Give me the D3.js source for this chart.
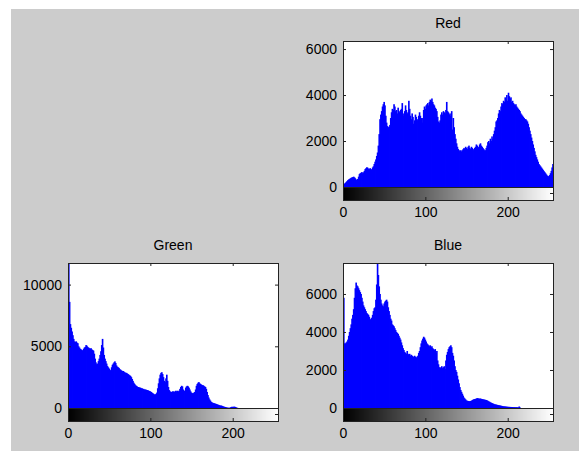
<!DOCTYPE html>
<html>
<head>
<meta charset="utf-8">
<script src="https://cdn.jsdelivr.net/npm/d3@7"></script>
<style>
  html, body { margin: 0; padding: 0; background: #fff; }
  svg { display: block; font-family: "Liberation Sans", Arial, sans-serif; }
  .tick text { fill: #000; font-size: 14px; }
  .tick line { stroke: #222; }
</style>
</head>
<body>
<svg width="579" height="451"></svg>
<script>
// pixel counts per intensity level (0..255)
const redCounts = [
  100,150,180,220,260,300,330,350,380,400,420,430,450,420,380,330,
  300,350,450,560,600,620,650,600,640,700,780,820,860,840,800,780,
  820,780,760,850,900,1000,1100,1200,1350,1500,1800,2300,2950,3150,3300,3500,
  3600,3700,3550,3100,2800,2650,2600,2620,2700,3000,3250,3400,3350,3600,3500,3300,
  3350,3200,3450,3300,3250,3350,3400,3650,3200,3100,3300,3550,3350,3200,3250,3750,
  3400,3100,2950,3200,3050,2750,2900,3150,3050,2950,2900,3100,3250,3100,3000,2800,
  3000,3350,3500,3400,3550,3600,3650,3550,3700,3800,3750,3850,3700,3600,3550,3450,
  3400,3300,3050,2850,2800,2900,3150,3250,3150,3300,3250,3200,3350,3700,3300,3250,
  3150,3200,3100,3300,2500,3000,2600,2300,2100,1900,1750,1650,1600,1550,1600,1550,
  1600,1650,1700,1650,1750,1700,1650,1750,1800,1700,1650,1750,1700,1650,1600,1700,
  1750,1850,1800,1700,1750,1850,1900,1800,1750,1700,1650,1600,1600,1700,1800,1950,
  2000,1900,2100,2000,2200,2100,2300,2450,2600,2850,2900,3000,3200,3350,3300,3500,
  3650,3600,3750,3700,3900,3800,4000,3750,4100,3950,3850,3900,3700,3750,3650,3600,
  3550,3600,3500,3450,3400,3350,3300,3200,3150,3100,3050,3000,2950,2950,2900,2850,
  2750,2600,2450,2300,2150,2000,1850,1700,1550,1400,1300,1200,1100,1000,950,900,
  850,800,750,700,650,600,550,500,480,450,520,600,700,850,1000,1100
];

const greenCounts = [
  11700,8600,6800,6500,6200,5900,5600,5400,5350,5400,5300,5250,5000,4900,4800,4750,
  4700,4650,4800,4900,4950,5100,5050,4950,4900,4850,4800,4850,4750,4700,4650,4400,
  4000,3700,3550,3600,3800,4000,4300,4600,5100,5600,4900,4300,4000,3800,3600,3400,
  3300,3200,3100,3050,3300,3500,3600,3700,3780,3650,3450,3350,3300,3250,3150,3100,
  3050,3000,3000,2950,2900,2850,2850,2800,2750,2700,2650,2600,2500,2350,2200,2050,
  1950,1850,1800,1750,1700,1700,1650,1650,1600,1600,1550,1550,1500,1500,1480,1450,
  1450,1400,1380,1350,1300,1250,1200,1150,1100,1100,1150,1250,1600,2000,2400,2700,
  2850,2900,2750,2500,2200,2100,2400,2700,2200,1700,1450,1350,1300,1300,1350,1350,
  1300,1350,1400,1350,1400,1350,1400,1550,1700,1800,1750,1500,1400,1400,1650,1750,
  1800,1750,1650,1500,1350,1250,1200,1200,1250,1300,1500,1800,1950,2050,2100,2000,
  1950,1900,1850,1850,1800,1750,1700,1550,1300,1050,850,700,600,500,450,420,
  400,380,350,330,300,280,250,230,200,200,180,150,120,100,80,60,
  40,30,20,20,30,80,100,90,100,110,90,60,30,10,0,0,
  0,0,0,0,0,0,0,0,0,0,0,0,0,0,0,0,
  0,0,0,0,0,0,0,0,0,0,0,0,0,0,0,0,
  0,0,0,0,0,0,0,0,0,0,0,0,0,0,0,0
];

const blueCounts = [
  5800,3400,3400,3450,3500,3600,3800,4000,4200,4400,4700,4900,5200,5800,6300,6600,
  6450,6400,6300,6200,6100,6000,5800,5600,5400,5300,5200,5100,5000,4950,4900,4800,
  4650,4700,4750,4900,5100,5250,5300,5700,6500,7650,7000,6400,6000,5700,5500,5400,
  5350,5500,5600,5650,5700,5600,5300,5100,4900,4700,4600,4400,4350,4300,4200,4100,
  4000,3950,3900,3800,3700,3600,3450,3300,3150,3050,2950,2900,2850,3000,2850,2800,
  2850,2750,2800,2750,2700,2700,2750,2700,2650,2700,2750,2900,3000,3200,3400,3550,
  3650,3750,3700,3600,3500,3400,3350,3300,3250,3300,3200,3250,3150,3100,3050,3100,
  2900,3000,2500,2300,2150,2100,2150,2200,2100,2150,2200,2050,2500,2800,2950,3100,
  3200,3250,3300,3200,2900,2750,2500,2200,2000,1900,1700,1500,1300,1100,950,850,
  750,650,550,500,450,400,380,370,350,360,370,380,420,440,460,470,
  480,500,520,510,500,490,500,480,470,460,450,440,430,420,400,380,
  350,330,300,280,260,240,220,200,190,180,170,160,150,140,130,120,
  110,100,90,85,80,75,70,65,60,60,55,55,50,50,45,45,
  40,40,40,35,35,80,30,0,0,0,0,0,0,0,0,0,
  0,0,0,0,0,0,0,0,0,0,0,0,0,0,0,0,
  0,0,0,0,0,0,0,0,0,0,0,0,0,0,0,0
];

const levels = d3.range(256);
const xTicks = [0, 100, 200];
const redTicks = [0, 2000, 4000, 6000];
const greenTicks = [0, 5000, 10000];
const blueTicks = [0, 2000, 4000, 6000];

const panels = [
  { title: 'Red', counts: redCounts, yTicks: redTicks, yMax: 6350, left: 343, top: 41, width: 210, height: 146 },
  { title: 'Green', counts: greenCounts, yTicks: greenTicks, yMax: 11750, left: 68, top: 263, width: 210, height: 145 },
  { title: 'Blue', counts: blueCounts, yTicks: blueTicks, yMax: 7630, left: 343, top: 263, width: 210, height: 145 },
];

const barHeight = 13;
const tickLen = 3;

const svg = d3.select('svg');

// figure background (matlab grey)
svg.append('rect')
  .attr('x', 11).attr('y', 9)
  .attr('width', 579 - 11).attr('height', 451 - 9)
  .attr('fill', '#cccccc');

const defs = svg.append('defs');

panels.forEach((p, idx) => {
  const x = d3.scaleLinear().domain([0, 255]).range([p.left, p.left + p.width]);
  const y = d3.scaleLinear().domain([0, p.yMax]).range([p.top + p.height, p.top]);
  const bottom = p.top + p.height;

  defs.append('clipPath').attr('id', `clip${idx}`)
    .append('rect')
    .attr('x', p.left).attr('y', p.top)
    .attr('width', p.width).attr('height', p.height);

  const g = svg.append('g');

  g.append('rect')
    .attr('x', p.left).attr('y', p.top)
    .attr('width', p.width).attr('height', p.height)
    .attr('fill', '#fff');

  // one bar per intensity level, slightly widened so neighbours overlap
  g.append('g')
    .attr('clip-path', `url(#clip${idx})`)
    .selectAll('rect')
    .data(levels.filter((i) => p.counts[i] > 0))
    .enter()
    .append('rect')
    .attr('x', (i) => x(i))
    .attr('y', (i) => y(p.counts[i]))
    .attr('width', (i) => x(i + 1) - x(i) + 0.8)
    .attr('height', (i) => bottom - y(p.counts[i]))
    .attr('fill', '#0000ff');

  // y axis on the left (ticks inside)
  g.append('g')
    .attr('transform', `translate(${p.left},0)`)
    .call(d3.axisLeft(y).tickValues(p.yTicks).tickFormat(d3.format('d'))
      .tickSizeInner(-tickLen).tickSizeOuter(0).tickPadding(6))
    .call((a) => a.select('.domain').remove())
    .call((a) => a.selectAll('text').attr('font-size', 14));

  // mirrored ticks on the right
  g.append('g')
    .attr('transform', `translate(${p.left + p.width},0)`)
    .call(d3.axisRight(y).tickValues(p.yTicks).tickFormat('')
      .tickSizeInner(-tickLen).tickSizeOuter(0))
    .call((a) => a.select('.domain').remove());

  // ticks along the top
  g.append('g')
    .attr('transform', `translate(0,${p.top})`)
    .call(d3.axisTop(x).tickValues(xTicks).tickFormat('')
      .tickSizeInner(-tickLen).tickSizeOuter(0))
    .call((a) => a.select('.domain').remove());

  g.append('rect')
    .attr('x', p.left).attr('y', p.top)
    .attr('width', p.width).attr('height', p.height)
    .attr('fill', 'none')
    .attr('stroke', '#222')
    .attr('shape-rendering', 'crispEdges');

  // greyscale bar under the histogram
  const shade = d3.scaleLinear().domain([0, 255]).range(['#000', '#fff']);
  g.append('g')
    .selectAll('rect')
    .data(levels)
    .enter()
    .append('rect')
    .attr('x', (i) => x(i))
    .attr('y', bottom)
    .attr('width', (i) => Math.max(0, Math.min(x(i + 1), p.left + p.width) - x(i)) + 0.4)
    .attr('height', barHeight)
    .attr('fill', (i) => shade(i))
    .attr('shape-rendering', 'crispEdges');

  g.append('g')
    .attr('transform', `translate(0,${bottom + barHeight})`)
    .call(d3.axisBottom(x).tickValues(xTicks).tickFormat(d3.format('d'))
      .tickSizeInner(-tickLen).tickSizeOuter(0).tickPadding(7))
    .call((a) => a.select('.domain').remove())
    .call((a) => a.selectAll('text').attr('font-size', 14));

  g.append('line')
    .attr('x1', p.left + p.width - tickLen).attr('x2', p.left + p.width)
    .attr('y1', bottom + barHeight / 2).attr('y2', bottom + barHeight / 2)
    .attr('stroke', '#222');

  g.append('rect')
    .attr('x', p.left).attr('y', bottom)
    .attr('width', p.width).attr('height', barHeight)
    .attr('fill', 'none')
    .attr('stroke', '#222')
    .attr('shape-rendering', 'crispEdges');

  // title
  g.append('text')
    .attr('x', p.left + p.width / 2)
    .attr('y', p.top - 13)
    .attr('text-anchor', 'middle')
    .attr('font-size', 14)
    .attr('fill', '#000')
    .text(p.title);
});
</script>
</body>
</html>
